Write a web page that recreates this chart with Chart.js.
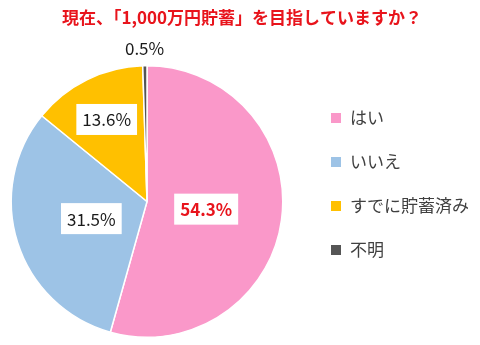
<!DOCTYPE html>
<html>
<head>
<meta charset="utf-8">
<script src="https://cdn.jsdelivr.net/npm/chart.js@4"></script>
<style>
  html, body { margin: 0; padding: 0; background: #fff; }
  #wrap { width: 480px; height: 345px; }
</style>
</head>
<body>
<div id="wrap"><canvas id="pieChart" width="480" height="345"></canvas></div>
<script>
// データ
const titleText = "現在、「1,000万円貯蓄」を目指していますか？";
const labels = ["はい", "いいえ", "すでに貯蓄済み", "不明"];
const values = [54.3, 31.5, 13.6, 0.5];
const colors = ["#FA98C9", "#9DC3E6", "#FFC000", "#555555"];

const FONT = "'Noto Sans CJK JP', 'Noto Sans', sans-serif";

// ラベル位置（半径に対する比率）
const labelRadius = [0.44, 0.43, 0.67, 1.13];
const labelBox = [true, true, true, false];

const decorPlugin = {
  id: 'decor',
  afterDraw(chart) {
    const ctx = chart.ctx;
    ctx.save();

    // タイトル
    ctx.font = "bold 17px " + FONT;
    ctx.fillStyle = "#E8141C";
    ctx.textAlign = "center";
    ctx.textBaseline = "middle";
    ctx.fillText(titleText, 242, 18);

    // スライスのラベル
    const meta = chart.getDatasetMeta(0);
    meta.data.forEach((arc, i) => {
      const mid = (arc.startAngle + arc.endAngle) / 2;
      const r = arc.outerRadius * labelRadius[i];
      const x = arc.x + Math.cos(mid) * r;
      const y = arc.y + Math.sin(mid) * r;
      const txt = values[i].toFixed(1) + "%";
      const bold = i === 0;
      ctx.font = (bold ? "bold " : "") + "17px " + FONT;
      const w = ctx.measureText(txt).width;
      if (labelBox[i]) {
        ctx.fillStyle = "#fff";
        ctx.fillRect(x - w / 2 - 6, y - 16, w + 12, 31);
      }
      ctx.fillStyle = bold ? "#E8141C" : "#1a1a1a";
      ctx.textAlign = "center";
      ctx.textBaseline = "middle";
      ctx.fillText(txt, x, y);
    });

    // 凡例
    ctx.font = "17px " + FONT;
    ctx.textAlign = "left";
    ctx.textBaseline = "middle";
    labels.forEach((lab, i) => {
      const y = 118 + i * 44;
      ctx.fillStyle = colors[i];
      ctx.fillRect(331, y - 5, 10, 10);
      ctx.fillStyle = "#404040";
      ctx.fillText(lab, 350, y);
    });

    ctx.restore();
  }
};

const ctx = document.getElementById('pieChart').getContext('2d');
const pieChart = new Chart(ctx, {
  type: 'pie',
  data: {
    labels: labels,
    datasets: [{
      data: values,
      backgroundColor: colors,
      borderColor: '#ffffff',
      borderWidth: 1.5
    }]
  },
  options: {
    responsive: false,
    animation: false,
    layout: {
      padding: { left: 9, right: 195, top: 65, bottom: 7 }
    },
    plugins: {
      legend: { display: false },
      title: { display: false },
      tooltip: { enabled: false }
    }
  },
  plugins: [decorPlugin]
});
</script>
</body>
</html>
